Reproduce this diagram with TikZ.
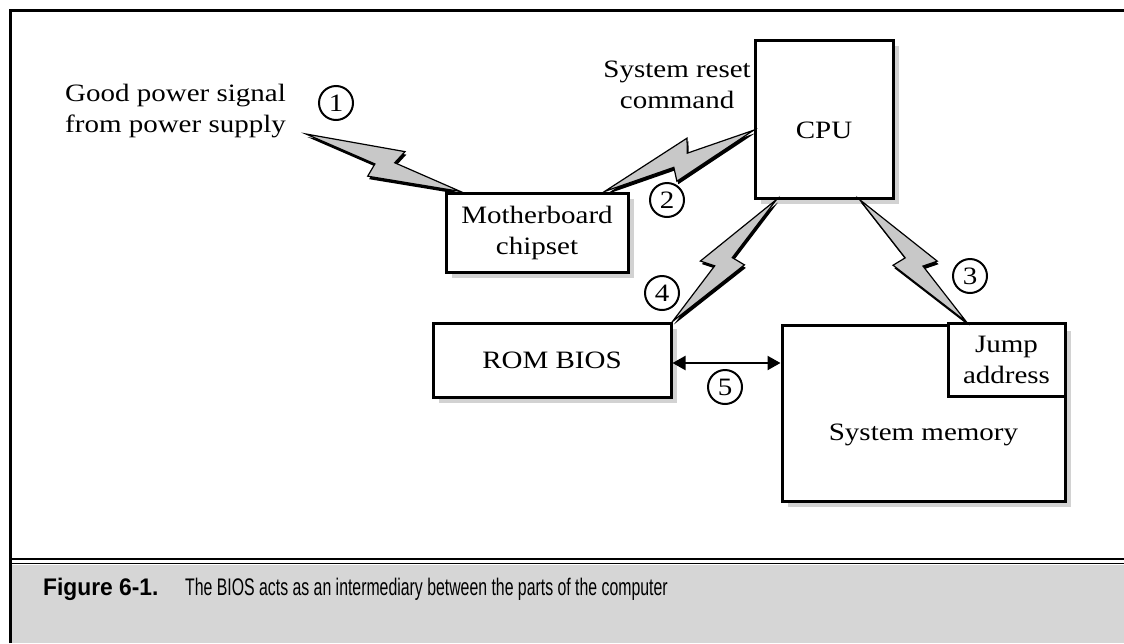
\documentclass[tikz,border=0pt]{standalone}
\usepackage{fontspec}
\setmainfont{Liberation Serif}[FakeStretch=1.16]
\newfontfamily\capbold{Liberation Sans Bold}[FakeStretch=0.95]
\newfontfamily\capfont{Liberation Sans}[FakeStretch=0.66]
\usetikzlibrary{calc,arrows.meta,shadows}
\definecolor{boltgray}{HTML}{C8C8C8}
\definecolor{shadowgray}{HTML}{D2D2D2}
\definecolor{capgray}{HTML}{D6D6D6}
\newcommand\zap[4]{%
  \coordinate (zA) at ($(#1)!0.60!(#2)!18pt!#3:(#2)$);
  \coordinate (zB) at ($(#1)!0.565!(#2)!4pt!#3:(#2)$);
  \coordinate (zC) at ($(#1)!0.44!(#2)!18pt!#4:(#2)$);
  \coordinate (zD) at ($(#1)!0.455!(#2)!4pt!#4:(#2)$);
  \begin{scope}[transform canvas={xshift=1.4pt,yshift=-3pt}]
    \fill[black] (#1) -- (zA) -- (zB) -- (#2) -- (zC) -- (zD) -- cycle;
  \end{scope}
  \filldraw[boltstyle] (#1) -- (zA) -- (zB) -- (#2) -- (zC) -- (zD) -- cycle;
}
\begin{document}
\begin{tikzpicture}[x=1pt,y=-1pt,
  every node/.style={font=\fontsize{25}{31}\selectfont},
  box/.style={draw, line width=3pt, fill=white, inner sep=0pt,
    drop shadow={shadow xshift=6pt, shadow yshift=-6pt, fill=shadowgray, opacity=1}},
  plainbox/.style={draw, line width=3pt, fill=white, inner sep=0pt},
  num/.style={circle, draw, line width=2pt, minimum size=34pt, inner sep=0pt},
  lbl/.style={inner sep=0pt},
  boltstyle/.style={fill=boltgray, draw=black, line width=1.2pt, line join=miter},
  dbl/.style={{Triangle[length=13pt,width=14pt]}-{Triangle[length=13pt,width=14pt]}, line width=2.2pt}]
\useasboundingbox (0,0) rectangle (1124,643);
% frame and caption
\fill[capgray] (10,565) rectangle (1124,643);
\draw[line width=3pt] (10,643) -- (10,10) -- (1124,10);
\draw[line width=1.8pt] (10,559) -- (1124,559);
\draw[line width=1.8pt] (10,563.5) -- (1124,563.5);
\node[lbl, anchor=base west, font=\capbold\fontsize{24}{26}\selectfont] (fig) at (43,595) {Figure 6-1.};
\node[lbl, anchor=base west, font=\capfont\fontsize{24}{26}\selectfont] (cap) at (185,595) {The BIOS acts as an intermediary between the parts of the computer};
% boxes
\node[box, minimum width=182pt, minimum height=79pt, align=center] (mb) at (537,232.5) {Motherboard\\chipset};
\node[box, minimum width=138pt, minimum height=158pt, text height=98pt, text depth=60pt] (cpu) at (824,119) {CPU};
\node[box, minimum width=238pt, minimum height=74pt] (rom) at (552,360) {ROM BIOS};
\node[box, minimum width=283pt, minimum height=176pt, text height=115pt, text depth=61pt] (mem) at (923.5,413) {System memory};
\node[plainbox, minimum width=117pt, minimum height=73pt, align=center] (jump) at (1006.5,360) {Jump\\address};
% texts
\node[lbl, anchor=north west, align=left] (good) at (65,84) {Good power signal\\from power supply};
\node[lbl, anchor=north east, align=center] (reset) at (751,61) {System reset\\command};
% numbers
\node[num] (c1) at (336,103) {1};
\node[num] (c2) at (667,200) {2};
\node[num] (c3) at (970,276) {3};
\node[num] (c4) at (662,293) {4};
\node[num] (c5) at (725,387) {5};
% bolts
\coordinate (g1) at (306,134);
\zap{g1}{$(mb.north west)+(16,0)$}{90}{-90}
\zap{$(mb.north east)+(-25,0)$}{$(cpu.north west)!0.57!(cpu.south west)$}{90}{-90}
\zap{$(cpu.south east)+(-35,0)$}{$(jump.north west)+(20,0)$}{90}{-90}
\zap{$(cpu.south west)+(23,0)$}{rom.north east}{-90}{90}
% memory link
\draw[dbl] ($(rom.east)+(0,3)$) -- ($(rom.east -| mem.west)+(0,3)$);
\end{tikzpicture}
\end{document}
